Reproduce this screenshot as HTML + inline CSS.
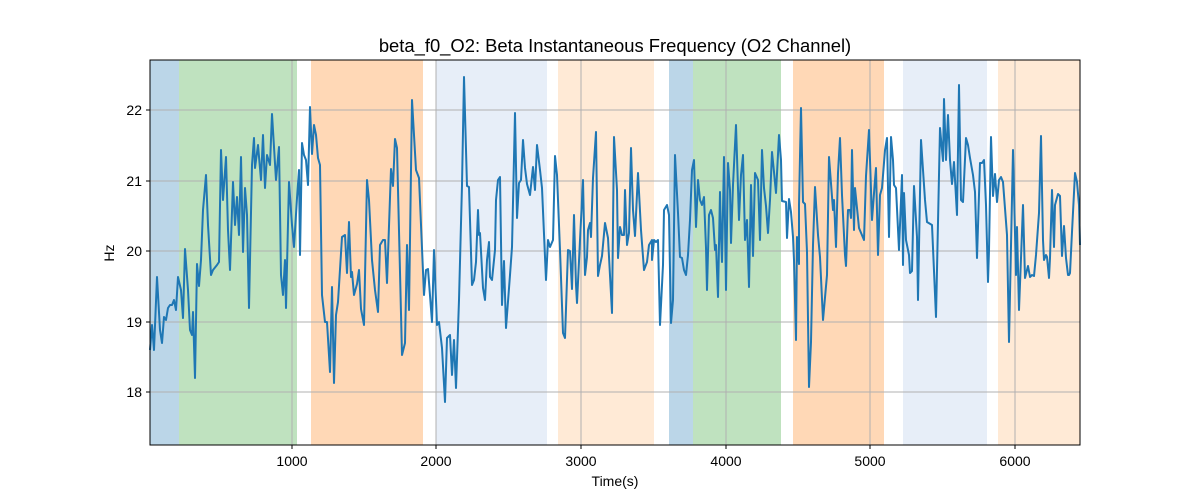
<!DOCTYPE html>
<html><head><meta charset="utf-8"><style>
body{margin:0;background:#fff;}
svg{display:block;font-family:"Liberation Sans","DejaVu Sans",sans-serif;}
</style></head><body>
<svg width="1200" height="500" viewBox="0 0 1200 500">
<rect width="1200" height="500" fill="#fff"/>
<g>
<rect x="150" y="60" width="29" height="385" fill="#1f77b4" fill-opacity="0.3"/>
<rect x="179" y="60" width="118" height="385" fill="#2ca02c" fill-opacity="0.3"/>
<rect x="311" y="60" width="112" height="385" fill="#ff7f0e" fill-opacity="0.3"/>
<rect x="436" y="60" width="111" height="385" fill="#aec7e8" fill-opacity="0.3"/>
<rect x="558" y="60" width="96" height="385" fill="#ffbb78" fill-opacity="0.3"/>
<rect x="669" y="60" width="24" height="385" fill="#1f77b4" fill-opacity="0.3"/>
<rect x="693" y="60" width="88" height="385" fill="#2ca02c" fill-opacity="0.3"/>
<rect x="793" y="60" width="91" height="385" fill="#ff7f0e" fill-opacity="0.3"/>
<rect x="903" y="60" width="84" height="385" fill="#aec7e8" fill-opacity="0.3"/>
<rect x="998" y="60" width="82" height="385" fill="#ffbb78" fill-opacity="0.3"/>
</g>
<g stroke="#b0b0b0" stroke-width="1">
<line x1="292" y1="60" x2="292" y2="445"/><line x1="436" y1="60" x2="436" y2="445"/>
<line x1="581" y1="60" x2="581" y2="445"/><line x1="726" y1="60" x2="726" y2="445"/>
<line x1="870" y1="60" x2="870" y2="445"/><line x1="1015" y1="60" x2="1015" y2="445"/>
<line x1="150" y1="110" x2="1080" y2="110"/><line x1="150" y1="181" x2="1080" y2="181"/>
<line x1="150" y1="251" x2="1080" y2="251"/><line x1="150" y1="322" x2="1080" y2="322"/>
<line x1="150" y1="392" x2="1080" y2="392"/>
</g>
<polyline fill="none" stroke="#1f77b4" stroke-width="2" stroke-linejoin="round" points="150,350 152,325 154,350 157,277 160,330 162,343 164,317 166,320 168,308 170,305 172,305 174,300 176,310 178,277 181,290 183,318 185,249 188,290 190,330 192,335 193,312 195,378 197,264 199,286 201,260 203,210 206,175 208,225 211,275 213,270 217,265 219,262 221,150 223,200 226,157 228,230 230,270 233,182 235,225 237,197 239,235 241,157 243,252 245,188 247,215 249,308 252,165 254,138 255,168 258,145 261,180 263,135 265,188 267,155 270,165 272,114 276,180 279,147 281,275 283,295 285,260 286,308 289,182 292,225 294,247 297,198 299,170 300,255 302,143 304,155 306,160 308,185 310,107 312,154 314,125 316,135 318,158 320,165 322,295 325,322 327,322 330,372 332,287 334,383 336,315 338,302 342,237 345,235 347,273 349,222 351,277 352,272 354,295 357,284 359,270 361,309 364,325 367,180 369,200 372,260 375,290 378,312 380,245 383,240 385,240 387,283 391,169 393,186 395,139 397,148 402,355 405,343 407,245 409,310 412,100 416,170 419,178 424,295 426,270 428,269 432,322 434,250 437,325 439,322 442,348 445,402 447,338 450,335 452,375 454,340 456,388 459,300 462,185 464,77 467,186 469,187 472,285 474,280 476,262 478,210 479,235 480,233 483,288 485,300 487,260 489,242 490,277 492,280 495,250 496,200 498,180 500,177 502,305 504,261 506,328 510,275 512,247 515,113 517,218 519,183 521,180 523,140 525,168 527,184 530,195 533,167 535,190 537,145 540,170 542,188 546,280 548,240 550,247 553,240 555,156 557,175 560,250 563,333 565,338 568,250 570,251 572,289 574,215 576,285 577,303 580,240 583,180 585,275 587,257 588,230 590,223 591,237 593,178 596,132 598,276 600,265 602,256 605,223 608,238 612,313 614,137 617,190 618,258 620,227 622,235 624,235 625,190 627,245 629,233 631,148 633,210 635,236 638,173 641,230 644,270 647,262 649,245 652,240 652,260 654,240 656,242 658,240 660,325 663,265 664,210 667,205 669,215 670,270 671,323 673,300 675,155 678,213 680,257 682,258 684,270 686,275 688,255 690,220 692,170 694,160 696,227 698,180 700,200 702,205 704,197 706,248 707,290 709,215 711,210 713,218 715,250 716,245 718,297 720,192 721,236 722,262 724,157 726,290 728,163 730,190 731,243 733,185 736,125 739,220 741,175 743,155 745,240 747,220 749,287 751,185 753,256 755,173 758,180 760,240 762,150 764,188 766,206 768,233 770,200 772,152 774,172 776,193 779,135 781,160 782,201 786,202 787,238 789,199 791,212 793,237 794,260 796,340 797,237 799,264 799,205 801,108 803,202 805,204 807,252 809,387 811,342 813,245 815,187 818,235 820,257 823,320 827,275 829,157 833,210 834,200 836,247 838,173 840,138 842,195 845,255 846,266 848,210 850,210 851,218 852,150 854,230 855,188 859,228 864,240 866,176 869,130 872,220 875,180 876,168 878,255 880,195 882,188 885,150 887,138 889,237 891,137 893,160 894,185 896,188 899,250 902,175 903,265 904,193 906,240 909,255 910,273 912,271 914,186 917,237 918,300 921,140 925,200 927,222 932,225 936,317 940,128 943,161 944,99 946,160 948,115 950,160 952,184 954,162 957,215 959,85 961,200 963,202 966,138 968,145 970,158 973,175 975,192 977,258 980,163 982,163 984,160 986,205 988,282 989,250 991,137 993,196 995,174 997,202 999,180 1001,177 1003,182 1007,235 1009,342 1013,150 1016,275 1017,227 1019,310 1021,258 1023,205 1025,278 1028,266 1030,277 1032,275 1034,276 1036,255 1039,213 1041,136 1043,240 1044,260 1046,255 1047,257 1049,278 1050,258 1052,190 1054,247 1055,205 1058,194 1060,196 1062,256 1064,226 1066,258 1068,275 1069,275 1070,273 1072,232 1075,173 1077,182 1079,205 1080,245"/>
<rect x="150" y="60" width="930" height="385" fill="none" stroke="#000" stroke-width="1"/>
<g stroke="#000" stroke-width="1">
<line x1="292" y1="445" x2="292" y2="449"/><line x1="436" y1="445" x2="436" y2="449"/>
<line x1="581" y1="445" x2="581" y2="449"/><line x1="726" y1="445" x2="726" y2="449"/>
<line x1="870" y1="445" x2="870" y2="449"/><line x1="1015" y1="445" x2="1015" y2="449"/>
<line x1="146" y1="110" x2="150" y2="110"/><line x1="146" y1="181" x2="150" y2="181"/>
<line x1="146" y1="251" x2="150" y2="251"/><line x1="146" y1="322" x2="150" y2="322"/>
<line x1="146" y1="392" x2="150" y2="392"/>
</g>
<g font-size="14" fill="#000" text-anchor="middle">
<text x="292" y="466">1000</text><text x="436" y="466">2000</text><text x="581" y="466">3000</text>
<text x="726" y="466">4000</text><text x="870" y="466">5000</text><text x="1015" y="466">6000</text>
<text x="615" y="486" font-size="14">Time(s)</text>
<text x="615" y="52" font-size="18.4">beta_f0_O2: Beta Instantaneous Frequency (O2 Channel)</text>
</g>
<g font-size="14" fill="#000" text-anchor="end">
<text x="142" y="115">22</text><text x="142" y="186">21</text><text x="142" y="256">20</text>
<text x="142" y="327">19</text><text x="142" y="397">18</text>
</g>
<text x="114" y="253" font-size="14" text-anchor="middle" transform="rotate(-90 114 253)">Hz</text>
</svg>
</body></html>
